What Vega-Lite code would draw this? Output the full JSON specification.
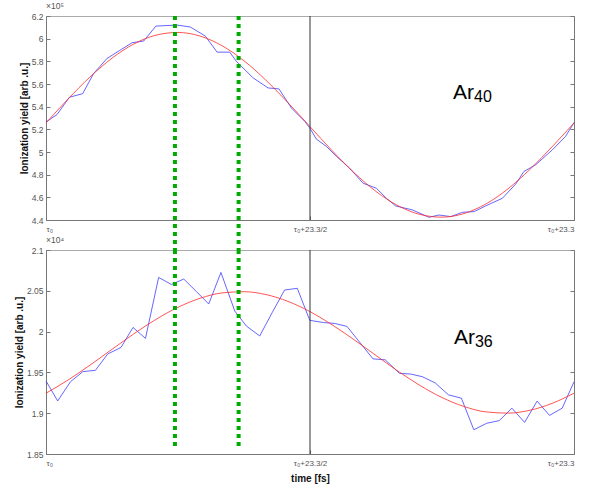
{
  "$schema": "https://vega.github.io/schema/vega-lite/v6.json",
  "padding": {"left": 13, "top": 1, "right": 5, "bottom": 5},
  "bounds": "flush",
  "spacing": 30,
  "background": "white",
  "config": {
    "font": "Liberation Sans",
    "view": {"stroke": "#aaaaaa", "strokeWidth": 1},
    "axis": {
      "domainColor": "#777777",
      "tickColor": "#777777",
      "labelColor": "#555555",
      "labelFont": "Liberation Sans",
      "labelFontSize": 8.5,
      "titleFont": "Liberation Sans",
      "titleFontSize": 10,
      "titleFontWeight": "bold",
      "titleColor": "#111111",
      "grid": false,
      "tickSize": -4,
      "labelPadding": 7,
      "titlePadding": 2
    },
    "axisX": {"labelPadding": 9}
  },
  "datasets": {
    "ar40": [
      {"t": 0, "v": 5.265}, {"t": 0.485, "v": 5.33}, {"t": 1.03, "v": 5.483}, {"t": 1.62, "v": 5.515},
      {"t": 2.1, "v": 5.692}, {"t": 2.69, "v": 5.825}, {"t": 3.25, "v": 5.896}, {"t": 3.8, "v": 5.964},
      {"t": 4.31, "v": 5.979}, {"t": 4.85, "v": 6.111}, {"t": 5.78, "v": 6.12}, {"t": 6.37, "v": 6.103},
      {"t": 7.03, "v": 6.023}, {"t": 7.55, "v": 5.881}, {"t": 8.11, "v": 5.881}, {"t": 8.4, "v": 5.8},
      {"t": 9.14, "v": 5.654}, {"t": 9.8, "v": 5.565}, {"t": 10.28, "v": 5.557}, {"t": 10.83, "v": 5.388},
      {"t": 11.42, "v": 5.27}, {"t": 11.64, "v": 5.212}, {"t": 11.93, "v": 5.114}, {"t": 12.37, "v": 5.05},
      {"t": 12.82, "v": 4.961}, {"t": 13.4, "v": 4.857}, {"t": 13.99, "v": 4.725}, {"t": 14.58, "v": 4.68},
      {"t": 15.02, "v": 4.592}, {"t": 15.43, "v": 4.524}, {"t": 16.17, "v": 4.489}, {"t": 16.9, "v": 4.424},
      {"t": 17.34, "v": 4.444}, {"t": 17.86, "v": 4.43}, {"t": 18.38, "v": 4.468}, {"t": 18.89, "v": 4.474},
      {"t": 19.4, "v": 4.524}, {"t": 20.14, "v": 4.592}, {"t": 20.73, "v": 4.718}, {"t": 21.09, "v": 4.828},
      {"t": 21.61, "v": 4.887}, {"t": 22.35, "v": 5.02}, {"t": 22.93, "v": 5.138}, {"t": 23.3, "v": 5.26}
    ],
    "ar40fit": [
      {"t": 0, "v": 5.256}, {"t": 0.971, "v": 5.467}, {"t": 1.942, "v": 5.662}, {"t": 2.913, "v": 5.828},
      {"t": 3.883, "v": 5.954}, {"t": 4.854, "v": 6.031}, {"t": 5.825, "v": 6.055}, {"t": 6.796, "v": 6.023},
      {"t": 7.767, "v": 5.938}, {"t": 8.738, "v": 5.805}, {"t": 9.708, "v": 5.633}, {"t": 10.679, "v": 5.435},
      {"t": 11.65, "v": 5.224}, {"t": 12.621, "v": 5.013}, {"t": 13.592, "v": 4.818}, {"t": 14.563, "v": 4.652},
      {"t": 15.533, "v": 4.526}, {"t": 16.504, "v": 4.449}, {"t": 17.475, "v": 4.425}, {"t": 18.446, "v": 4.457},
      {"t": 19.417, "v": 4.542}, {"t": 20.388, "v": 4.675}, {"t": 21.358, "v": 4.847}, {"t": 22.329, "v": 5.045},
      {"t": 23.3, "v": 5.256}
    ],
    "ar36": [
      {"t": 0, "v": 1.9395}, {"t": 0.516, "v": 1.915}, {"t": 1.08, "v": 1.9386}, {"t": 1.63, "v": 1.951},
      {"t": 2.18, "v": 1.9525}, {"t": 2.72, "v": 1.9725}, {"t": 3.31, "v": 1.9806}, {"t": 3.84, "v": 2.0051},
      {"t": 4.39, "v": 1.9917}, {"t": 4.97, "v": 2.0664}, {"t": 5.53, "v": 2.0578}, {"t": 6.08, "v": 2.0644},
      {"t": 6.64, "v": 2.049}, {"t": 7.18, "v": 2.0338}, {"t": 7.72, "v": 2.0725}, {"t": 8.33, "v": 2.0252},
      {"t": 8.84, "v": 2.0069}, {"t": 9.43, "v": 1.9946}, {"t": 9.98, "v": 2.0232}, {"t": 10.53, "v": 2.051},
      {"t": 11.09, "v": 2.053}, {"t": 11.64, "v": 2.0138}, {"t": 12.25, "v": 2.0111}, {"t": 12.74, "v": 2.01},
      {"t": 13.28, "v": 2.0064}, {"t": 14.43, "v": 1.9666}, {"t": 14.97, "v": 1.9654}, {"t": 15.6, "v": 1.9488},
      {"t": 16.09, "v": 1.948}, {"t": 16.6, "v": 1.9448}, {"t": 17.17, "v": 1.9372}, {"t": 17.76, "v": 1.9225},
      {"t": 18.33, "v": 1.9184}, {"t": 18.88, "v": 1.8797}, {"t": 19.45, "v": 1.8877}, {"t": 20.0, "v": 1.8909},
      {"t": 20.56, "v": 1.9062}, {"t": 21.12, "v": 1.8887}, {"t": 21.67, "v": 1.9148}, {"t": 22.22, "v": 1.8973},
      {"t": 22.78, "v": 1.9062}, {"t": 23.3, "v": 1.9385}
    ],
    "ar36fit": [
      {"t": 0, "v": 1.9245}, {"t": 0.971, "v": 1.9406}, {"t": 1.942, "v": 1.9589}, {"t": 2.913, "v": 1.9783},
      {"t": 3.883, "v": 1.9974}, {"t": 4.854, "v": 2.015}, {"t": 5.825, "v": 2.0298}, {"t": 6.796, "v": 2.0408},
      {"t": 7.767, "v": 2.0474}, {"t": 8.738, "v": 2.0489}, {"t": 9.708, "v": 2.0454}, {"t": 10.679, "v": 2.037},
      {"t": 11.65, "v": 2.0245}, {"t": 12.621, "v": 2.0084}, {"t": 13.592, "v": 1.9901}, {"t": 14.563, "v": 1.9707},
      {"t": 15.533, "v": 1.9516}, {"t": 16.504, "v": 1.934}, {"t": 17.475, "v": 1.9192}, {"t": 18.446, "v": 1.9082},
      {"t": 19.417, "v": 1.9016}, {"t": 20.388, "v": 1.9001}, {"t": 21.358, "v": 1.9036}, {"t": 22.329, "v": 1.912},
      {"t": 23.3, "v": 1.9245}
    ],
    "markers": [{"t": 5.69}, {"t": 8.5}],
    "mid": [{"t": 11.65}],
    "lab40": [{"t": 17.96, "v": 5.471, "main": "Ar", "sub": "40"}],
    "lab36": [{"t": 18.0, "v": 1.9848, "main": "Ar", "sub": "36"}]
  },
  "vconcat": [
    {
      "width": 528,
      "height": 204,
      "title": {"text": "×10⁵", "anchor": "start", "frame": "group", "fontSize": 8.5, "fontWeight": "normal", "color": "#555555", "offset": 2, "font": "Liberation Sans"},
      "resolve": {"axis": {"y": "independent"}},
      "layer": [
        {
          "data": {"name": "ar40"},
          "mark": {"type": "line", "color": "#3f3fff", "strokeWidth": 0.8},
          "encoding": {
            "x": {"field": "t", "type": "quantitative", "scale": {"domain": [0, 23.3], "nice": false},
              "axis": {"values": [0, 11.65, 23.3], "labelFontSize": 8, "title": null,
                "labelExpr": "datum.value == 0 ? 'τ₀' : (datum.value < 20 ? 'τ₀+23.3/2' : 'τ₀+23.3')"}},
            "y": {"field": "v", "type": "quantitative", "scale": {"domain": [4.4, 6.2], "nice": false, "zero": false},
              "axis": {"values": [4.4, 4.6, 4.8, 5, 5.2, 5.4, 5.6, 5.8, 6, 6.2], "format": "~g", "title": "Ionization yield [arb .u.]"}}
          }
        },
        {
          "data": {"name": "ar40fit"},
          "mark": {"type": "line", "color": "#ff2a2a", "strokeWidth": 0.8, "interpolate": "monotone"},
          "encoding": {
            "x": {"field": "t", "type": "quantitative"},
            "y": {"field": "v", "type": "quantitative",
              "axis": {"orient": "right", "values": [4.4, 4.6, 4.8, 5, 5.2, 5.4, 5.6, 5.8, 6, 6.2], "labels": false, "title": null}}
          }
        },
        {
          "data": {"name": "mid"},
          "mark": {"type": "rule", "color": "#333333", "strokeWidth": 1},
          "encoding": {"x": {"field": "t", "type": "quantitative"}}
        },
        {
          "data": {"name": "markers"},
          "mark": {"type": "rule", "color": "#00aa00", "strokeWidth": 4, "strokeDash": [4, 4]},
          "encoding": {
            "x": {"field": "t", "type": "quantitative"},
            "y": {"datum": 6.2, "type": "quantitative", "axis": null},
            "y2": {"datum": 4.135}
          }
        },
        {
          "data": {"name": "lab40"},
          "mark": {"type": "text", "fontSize": 21, "align": "left", "baseline": "alphabetic", "color": "#000000", "font": "Liberation Sans"},
          "encoding": {
            "x": {"field": "t", "type": "quantitative"},
            "y": {"field": "v", "type": "quantitative", "axis": null},
            "text": {"field": "main"}
          }
        },
        {
          "data": {"name": "lab40"},
          "mark": {"type": "text", "fontSize": 16, "align": "left", "baseline": "alphabetic", "dx": 21, "dy": 3, "color": "#000000", "font": "Liberation Sans"},
          "encoding": {
            "x": {"field": "t", "type": "quantitative"},
            "y": {"field": "v", "type": "quantitative", "axis": null},
            "text": {"field": "sub"}
          }
        }
      ]
    },
    {
      "width": 528,
      "height": 204,
      "title": {"text": "×10⁴", "anchor": "start", "frame": "group", "fontSize": 8.5, "fontWeight": "normal", "color": "#555555", "offset": 2, "font": "Liberation Sans"},
      "resolve": {"axis": {"y": "independent"}},
      "layer": [
        {
          "data": {"name": "ar36"},
          "mark": {"type": "line", "color": "#3f3fff", "strokeWidth": 0.8},
          "encoding": {
            "x": {"field": "t", "type": "quantitative", "scale": {"domain": [0, 23.3], "nice": false},
              "axis": {"values": [0, 11.65, 23.3], "labelFontSize": 8, "title": "time [fs]", "titlePadding": 6,
                "labelExpr": "datum.value == 0 ? 'τ₀' : (datum.value < 20 ? 'τ₀+23.3/2' : 'τ₀+23.3')"}},
            "y": {"field": "v", "type": "quantitative", "scale": {"domain": [1.85, 2.1], "nice": false, "zero": false},
              "axis": {"values": [1.85, 1.9, 1.95, 2, 2.05, 2.1], "format": "~g", "title": "Ionization yield [arb .u.]"}}
          }
        },
        {
          "data": {"name": "ar36fit"},
          "mark": {"type": "line", "color": "#ff2a2a", "strokeWidth": 0.8, "interpolate": "monotone"},
          "encoding": {
            "x": {"field": "t", "type": "quantitative"},
            "y": {"field": "v", "type": "quantitative",
              "axis": {"orient": "right", "values": [1.85, 1.9, 1.95, 2, 2.05, 2.1], "labels": false, "title": null}}
          }
        },
        {
          "data": {"name": "mid"},
          "mark": {"type": "rule", "color": "#333333", "strokeWidth": 1},
          "encoding": {"x": {"field": "t", "type": "quantitative"}}
        },
        {
          "data": {"name": "markers"},
          "mark": {"type": "rule", "color": "#00aa00", "strokeWidth": 4, "strokeDash": [4, 4]},
          "encoding": {
            "x": {"field": "t", "type": "quantitative"},
            "y": {"datum": 2.1, "type": "quantitative", "axis": null},
            "y2": {"datum": 1.855}
          }
        },
        {
          "data": {"name": "lab36"},
          "mark": {"type": "text", "fontSize": 21, "align": "left", "baseline": "alphabetic", "color": "#000000", "font": "Liberation Sans"},
          "encoding": {
            "x": {"field": "t", "type": "quantitative"},
            "y": {"field": "v", "type": "quantitative", "axis": null},
            "text": {"field": "main"}
          }
        },
        {
          "data": {"name": "lab36"},
          "mark": {"type": "text", "fontSize": 16, "align": "left", "baseline": "alphabetic", "dx": 21, "dy": 3, "color": "#000000", "font": "Liberation Sans"},
          "encoding": {
            "x": {"field": "t", "type": "quantitative"},
            "y": {"field": "v", "type": "quantitative", "axis": null},
            "text": {"field": "sub"}
          }
        }
      ]
    }
  ]
}
